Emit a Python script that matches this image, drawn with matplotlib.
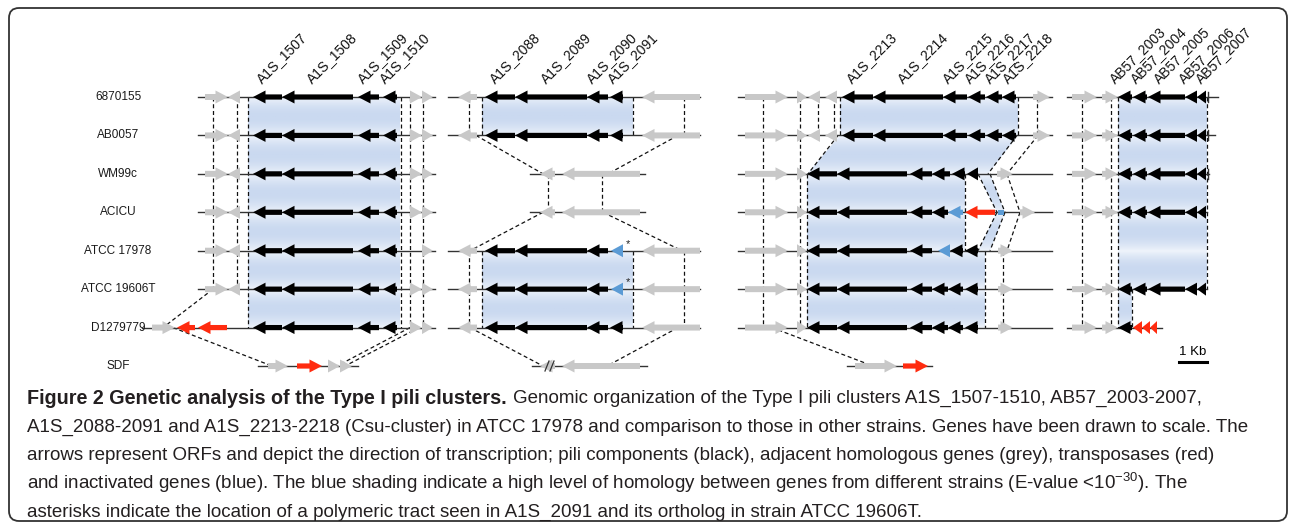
import numpy as np
import matplotlib.pyplot as plt
from matplotlib import font_manager
from matplotlib.patches import Polygon, FancyBboxPatch
from matplotlib.colors import LinearSegmentedColormap

W, H, DPI = 1290, 524, 100
ROW_Y0, ROW_STEP = 97.0, 38.43      # pixel y of first track and track spacing

## DATA (x in map units, 28 units = 1 Kb; genes are (tail, head, kind))

strains = ['6870155', 'AB0057', 'WM99c', 'ACICU', 'ATCC 17978', 'ATCC 19606T', 'D1279779', 'SDF']

c1_left = [(205, 228, 'g'), (240, 228, 'g')]
c1_core = [(282, 253, 'k'), (353, 282, 'k'), (379, 358, 'k'), (397, 383, 'k')]
c1_right = [(410, 422, 'g'), (422, 433, 'g')]
cluster1 = {
    0: c1_left + c1_core + c1_right,
    1: c1_left + c1_core + c1_right,
    2: c1_left + c1_core + c1_right,
    3: c1_left + c1_core + c1_right,
    4: c1_left + c1_core + [(422, 433, 'g')],
    5: c1_left + c1_core + c1_right,
    6: [(152, 175, 'g'), (195, 177, 'r'), (227, 198, 'r')] + c1_core + c1_right,
    7: [(268, 288, 'g'), (297, 322, 'r'), (328, 340, 'g'), (340, 352, 'g')],
}

c2_left = [(477, 458, 'g')]
c2_core = [(515, 485, 'k'), (587, 515, 'k'), (608, 587, 'k'), (623, 610, 'k')]
c2_core_blue = [(515, 485, 'k'), (587, 515, 'k'), (608, 587, 'k'), (623, 611, 'b')]
c2_right = [(700, 642, 'g')]
c2_short = [(555, 540, 'g'), (640, 562, 'g')]
cluster2 = {
    0: c2_left + c2_core + c2_right,
    1: c2_left + c2_core + c2_right,
    2: c2_short,
    3: c2_short,
    4: c2_left + c2_core_blue + c2_right,
    5: c2_left + c2_core_blue + c2_right,
    6: c2_left + c2_core + c2_right,
    7: c2_short,
}

c3_left = [(745, 788, 'g'), (797, 807, 'g')]
c3_top = [(820, 808, 'g'), (837, 825, 'g'), (873, 842, 'k'), (943, 873, 'k'), (967, 943, 'k'),
          (985, 968, 'k'), (1002, 986, 'k'), (1016, 1002, 'k'), (1033, 1050, 'g')]
c3_mid = [(837, 807, 'k'), (907, 837, 'k'), (932, 910, 'k')]
cluster3 = {
    0: c3_left + c3_top,
    1: c3_left + c3_top,
    2: c3_left + c3_mid + [(950, 932, 'k'), (965, 952, 'k'), (978, 967, 'k'), (997, 1013, 'g')],
    3: c3_left + c3_mid + [(948, 932, 'k'), (963, 948, 'b'), (995, 965, 'r'), (998, 1004, 's'),
                           (1020, 1035, 'g')],
    4: c3_left + c3_mid + [(950, 938, 'b'), (963, 950, 'k'), (978, 965, 'k'), (998, 1013, 'g')],
    5: c3_left + c3_mid + [(948, 932, 'k'), (963, 948, 'k'), (978, 965, 'k'), (998, 1013, 'g')],
    6: c3_left + c3_mid + [(948, 932, 'k'), (963, 948, 'k'), (978, 965, 'k'), (998, 1013, 'g')],
    7: [(855, 897, 'g'), (903, 928, 'r')],
}

c4_left = [(1072, 1097, 'g'), (1102, 1118, 'g')]
c4_core = [(1132, 1118, 'k'), (1147, 1133, 'k'), (1185, 1148, 'k'), (1197, 1185, 'k'), (1206, 1197, 'k')]
cluster4 = {
    0: c4_left + c4_core,
    1: c4_left + c4_core,
    2: c4_left + c4_core,
    3: c4_left + c4_core,
    5: c4_left + c4_core,
    6: c4_left + [(1132, 1118, 'k'), (1142, 1133, 'r'), (1150, 1142, 'r'), (1157, 1150, 'r')],
}
clusters = [cluster1, cluster2, cluster3, cluster4]

# backbone lines (track, start, end)
backbones = [(0, 198, 435), (1, 198, 435), (2, 198, 435), (3, 198, 435), (4, 198, 435),
             (5, 198, 435), (6, 142, 435), (7, 258, 358),
             (0, 448, 700), (1, 448, 700), (2, 530, 645), (3, 530, 645), (4, 448, 700),
             (5, 448, 700), (6, 448, 700), (7, 532, 647),
             (0, 738, 1052), (1, 738, 1052), (2, 738, 1052), (3, 738, 1052), (4, 738, 1052),
             (5, 738, 1052), (6, 738, 1052), (7, 847, 932),
             (0, 1067, 1218), (1, 1067, 1215), (2, 1067, 1209), (3, 1067, 1207),
             (5, 1067, 1207), (6, 1067, 1162)]
end_ticks = [(0, 1208), (1, 1208), (2, 1208)]

# homology shading polygons, vertices (x, track)
shading = [
    [(248, 0), (400, 0), (400, 6), (248, 6)],
    [(482, 0), (633, 0), (633, 1), (482, 1)],
    [(482, 4), (633, 4), (633, 6), (482, 6)],
    [(840, 0), (1018, 0), (1018, 1), (988, 2), (965, 2), (965, 4), (985, 4), (985, 6),
     (807, 6), (807, 2), (840, 1)],
    [(978, 2), (990, 2), (1005, 3), (990, 4), (978, 4), (997, 3)],
    [(1118, 0), (1207, 0), (1207, 5), (1132, 5), (1132, 6), (1118, 6)],
]

# dashed connectors ((x0, track0), (x1, track1))
connectors = [
    ((213, 0), (213, 5)), ((237, 0), (237, 5)), ((248, 0), (248, 6)), ((401, 0), (401, 6)),
    ((410, 0), (410, 6)), ((423, 0), (423, 6)),
    ((213, 5), (163, 6)), ((173, 6), (272, 7)), ((410, 6), (337, 7)), ((419, 6), (345, 7)),
    ((469, 0), (469, 1)), ((482, 0), (482, 1)), ((633, 0), (633, 1)), ((684, 0), (684, 1)),
    ((476, 1), (543, 2)), ((678, 1), (608, 2)), ((548, 2), (548, 3)), ((602, 2), (602, 3)),
    ((543, 3), (470, 4)), ((603, 3), (682, 4)),
    ((469, 4), (469, 6)), ((482, 4), (482, 6)), ((633, 4), (633, 6)), ((684, 4), (684, 6)),
    ((470, 6), (543, 7)), ((678, 6), (607, 7)),
    ((763, 0), (763, 6)), ((800, 0), (800, 6)), ((807, 2), (807, 6)), ((818, 0), (818, 1)),
    ((834, 0), (834, 1)), ((840, 0), (840, 1)), ((1018, 0), (1018, 1)), ((1037, 0), (1037, 1)),
    ((838, 1), (808, 2)), ((1017, 1), (988, 2)), ((1038, 1), (1007, 2)),
    ((965, 2), (965, 4)), ((978, 2), (997, 3)), ((990, 2), (1005, 3)), ((997, 3), (978, 4)),
    ((1005, 3), (990, 4)), ((1007, 2), (1020, 3)), ((1020, 3), (1007, 4)),
    ((985, 4), (985, 6)), ((1003, 4), (1003, 6)), ((772, 6), (873, 7)),
    ((1082, 0), (1082, 6)), ((1111, 0), (1111, 6)), ((1118, 0), (1118, 6)),
    ((1207, 0), (1207, 5)), ((1132, 5), (1132, 6)),
]

gene_labels = [
    ('A1S_1507', 267), ('A1S_1508', 317), ('A1S_1509', 368), ('A1S_1510', 390),
    ('A1S_2088', 500), ('A1S_2089', 551), ('A1S_2090', 597), ('A1S_2091', 618),
    ('A1S_2213', 857), ('A1S_2214', 908), ('A1S_2215', 953), ('A1S_2216', 975),
    ('A1S_2217', 995), ('A1S_2218', 1013),
    ('AB57_2003', 1120), ('AB57_2004', 1141), ('AB57_2005', 1164), ('AB57_2006', 1189),
    ('AB57_2007', 1206),
]
asterisks = [(628, 4), (628, 5)]
KB = 28

caption_bold = 'Figure 2 Genetic analysis of the Type I pili clusters.'
caption_lines = [
    'Genomic organization of the Type I pili clusters A1S_1507-1510, AB57_2003-2007,',
    'A1S_2088-2091 and A1S_2213-2218 (Csu-cluster) in ATCC 17978 and comparison to those in other strains. Genes have been drawn to scale. The',
    'arrows represent ORFs and depict the direction of transcription; pili components (black), adjacent homologous genes (grey), transposases (red)',
    r'and inactivated genes (blue). The blue shading indicate a high level of homology between genes from different strains (E-value <10$^{\mathregular{-30}}$). The',
    'asterisks indicate the location of a polymeric tract seen in A1S_2091 and its ortholog in strain ATCC 19606T.',
]

## STYLE

colors = {'k': '#000000', 'g': '#c8c8c8', 'r': '#ff2b0f', 'b': '#5b9bd5', 's': '#5b9bd5'}
names = {f.name for f in font_manager.fontManager.ttflist}
label_font = 'Liberation Sans' if 'Liberation Sans' in names else 'DejaVu Sans'
cap_font = 'Liberation Sans Narrow' if 'Liberation Sans Narrow' in names else label_font
text_color = '#231f20'
shade_cmap = LinearSegmentedColormap.from_list('shade', ['#eff4fb', '#cad9f0'])


def px(n):
    return n / ROW_STEP


def draw_gene(ax, row, tail, head, kind):
    d = np.sign(head - tail)
    length = abs(head - tail)
    if kind == 's':
        ax.add_patch(Polygon([(tail, row - px(2.5)), (head, row - px(2.5)), (head, row + px(2.5)),
                              (tail, row + px(2.5))], closed=True, fc=colors[kind], ec='none', zorder=4))
        return
    body = px(3.0) if kind == 'g' else px(2.6)
    hw = px(6.5)
    hl = min(12.5, length)
    neck = head - d * hl
    if length > hl:
        verts = [(tail, row - body), (neck, row - body), (neck, row - hw), (head, row),
                 (neck, row + hw), (neck, row + body), (tail, row + body)]
    else:
        verts = [(neck, row - hw), (head, row), (neck, row + hw)]
    ax.add_patch(Polygon(verts, closed=True, fc=colors[kind], ec='none', zorder=4))


def main() -> None:
    plt.rcParams['font.family'] = [label_font, 'DejaVu Sans']
    fig = plt.figure(figsize=(W / DPI, H / DPI), dpi=DPI)

    # pixel axes for frame and caption
    bg = fig.add_axes([0, 0, 1, 1])
    bg.set_xlim(0, W)
    bg.set_ylim(H, 0)
    bg.axis('off')
    bg.add_patch(FancyBboxPatch((9, 8), W - 12, H - 11, boxstyle='round,pad=0,rounding_size=10',
                                fill=False, ec='#333333', lw=1.3))

    # map axes: x in map units, y in track index
    ax = fig.add_axes([0, 0, 1, 1])
    ax.patch.set_alpha(0)
    ax.axis('off')
    ax.set_xlim(0, W)
    ax.set_ylim((H - ROW_Y0) / ROW_STEP, -ROW_Y0 / ROW_STEP)

    for poly in shading:
        pts = np.array(poly, dtype=float)
        x0, x1 = pts[:, 0].min(), pts[:, 0].max()
        r0, r1 = pts[:, 1].min(), pts[:, 1].max()
        rr = np.linspace(r0, r1, 400)
        v = np.sin(np.pi * (rr - np.floor(rr))) ** 0.9
        im = ax.imshow(v[:, None], cmap=shade_cmap, vmin=0, vmax=1, extent=(x0, x1, r1, r0),
                       origin='upper', aspect='auto', interpolation='bilinear', zorder=1)
        patch = Polygon(pts, closed=True, fc='none', ec='none')
        ax.add_patch(patch)
        im.set_clip_path(patch)

    for (xa, ra), (xb, rb) in connectors:
        ax.plot([xa, xb], [ra, rb], color='#111111', lw=0.9, ls=(0, (3.2, 2.2)), zorder=2)

    for row, xa, xb in backbones:
        ax.plot([xa, xb], [row, row], color='#333333', lw=1.0, zorder=3)
    for row, x in end_ticks:
        ax.plot([x, x], [row - px(5), row + px(5)], color='#333333', lw=1.0, zorder=3)

    for cl in clusters:
        for row, genes in cl.items():
            for tail, head, kind in genes:
                draw_gene(ax, row, tail, head, kind)

    # break marks on SDF
    for x in (547, 552):
        ax.plot([x - 2, x + 2], [7 + px(5), 7 - px(5)], color='#333333', lw=0.9, zorder=5)
    for x, row in asterisks:
        ax.text(x, row - px(7), '*', fontsize=8, ha='center', va='center', color='#222222', zorder=5)

    for i, name in enumerate(strains):
        ax.text(118, i, name, ha='center', va='center', fontsize=8.5, color='#1a1a1a')

    for name, x in gene_labels:
        ax.text(x - 3, -px(11), name, rotation=45, rotation_mode='anchor', ha='left', va='bottom',
                fontsize=10, color='#111111')

    # scale bar
    ax.plot([1207 - KB, 1207], [px(362 - ROW_Y0)] * 2, color='black', lw=2.2)
    ax.text(1207 - KB / 2, px(358 - ROW_Y0), '1 Kb', ha='center', va='bottom', fontsize=9.5)

    # caption
    renderer = fig.canvas.get_renderer()
    probe = bg.text(0, 0, caption_lines[1], fontsize=12, family=[cap_font, 'DejaVu Sans'])
    cap_fs = 12 * 1226 / probe.get_window_extent(renderer).width
    probe.remove()
    ys = [398, 427, 455, 483, 512]
    x0 = 27
    tb = bg.text(x0, ys[0], caption_bold, fontsize=cap_fs * 1.05, fontweight='bold', va='center',
                 family=[cap_font, 'DejaVu Sans'], color=text_color)
    wb = tb.get_window_extent(renderer).width
    bg.text(x0 + wb + 6, ys[0], caption_lines[0], fontsize=cap_fs, va='center',
            family=[cap_font, 'DejaVu Sans'], color=text_color)
    for y, line in zip(ys[1:], caption_lines[1:]):
        bg.text(x0, y, line, fontsize=cap_fs, va='center', family=[cap_font, 'DejaVu Sans'],
                color=text_color)

    fig.savefig('out.png', dpi=DPI)


if __name__ == '__main__':
    main()
